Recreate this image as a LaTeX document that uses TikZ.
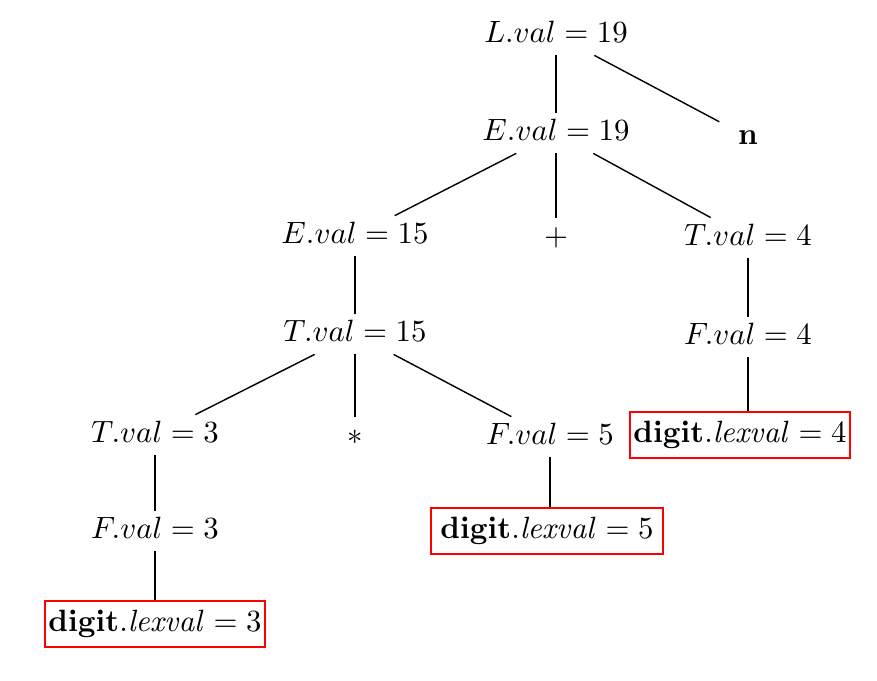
\documentclass[tikz,border=0pt]{standalone}
\usepackage{amsmath,amssymb}
\usepackage{tikz}
\usetikzlibrary{arrows.meta}

\begin{document}
\begin{tikzpicture}[x=0.0125cm, y=-0.0125cm, line width=0.5pt,
  every node/.style={font=\fontsize{10.8}{13}\selectfont, text height=7.5pt, text depth=2.5pt, inner sep=2pt},
  leaf/.style={draw=red, line width=0.8pt, minimum width=2.75cm, minimum height=0.58cm, inner sep=1pt}]
\useasboundingbox (0,0) rectangle (877,680);
\node (l) at (556,35) {$L.val = 19$};
\node[minimum width=0.7cm] (n) at (748,137) {$\mathbf{n}$};
\draw (l)--(n);

\node (e1) at (556,133) {$E.val = 19$};
\draw (l)--(e1);
\node (e2) at (355,236) {$E.val = 15$};
\node (plus) at (556,238) {$+$};
\node (t1) at (748,238) {$T.val = 4$};
\draw (e1)--(e2);
\draw (e1)--(plus);
\draw (e1)--(t1);

\node (t2) at (355,334) {$T.val = 15$};
\draw (e2)--(t2);
\node (f1) at (748,337) {$F.val = 4$};
\draw (t1)--(f1);
\node[leaf] (d1) at (740,435) {$\mathbf{digit}.\mathit{lexval} = 4$};
\draw (f1)--(f1 |- d1.north);

\node (t3) at (155,435) {$T.val = 3$};
\node (times) at (355,437) {$*$};
\node (f2) at (550,437) {$F.val = 5$};
\draw (t2)--(t3);
\draw (t2)--(times);
\draw (t2)--(f2);

\node (f3) at (155,531) {$F.val = 3$};
\draw (t3)--(f3);
\node[leaf, minimum width=2.9cm] (d2) at (547,531) {$\mathbf{digit}.\mathit{lexval} = 5$};
\draw (f2)--(f2 |- d2.north);
\node[leaf] (d3) at (155,624) {$\mathbf{digit}.\mathit{lexval} = 3$};
\draw (f3)--(d3);
\end{tikzpicture}
\end{document}
